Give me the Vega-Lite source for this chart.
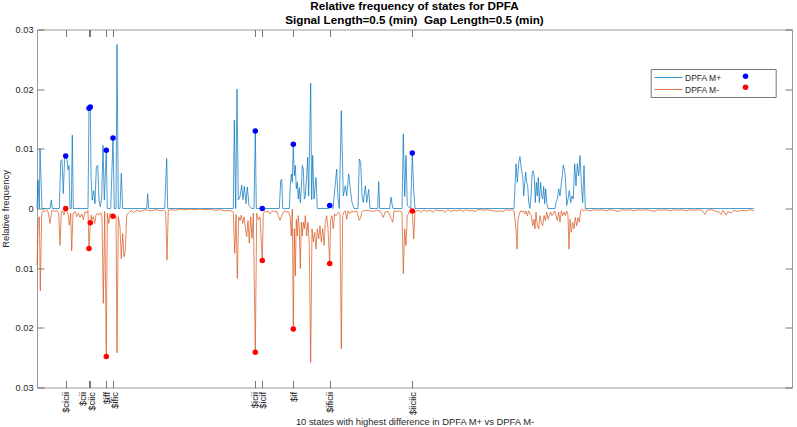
{
  "$schema": "https://vega.github.io/schema/vega-lite/v6.json",
  "width": 755,
  "height": 358,
  "autosize": {"type": "none"},
  "padding": {"left": 37, "top": 29.5, "right": 5, "bottom": 39.5},
  "background": "white",
  "config": {
    "font": "Liberation Sans",
    "view": {"stroke": "#9a9a9a", "strokeWidth": 1},
    "axis": {"labelColor": "#262626", "titleColor": "#262626", "tickColor": "#555555", "tickWidth": 0.8, "grid": false, "domain": false}
  },
  "title": {
    "text": ["Relative frequency of states for DPFA", "Signal Length=0.5 (min)\u00a0 Gap Length=0.5 (min)"],
    "fontSize": 11.7,
    "fontWeight": "bold",
    "color": "#000000",
    "anchor": "middle",
    "lineHeight": 14,
    "offset": 6,
    "dy": 7.5
  },
  "datasets": {
    "plus": [
      {"x":0,"y":0},{"x":1,"y":0.0048},{"x":2.3,"y":0},{"x":3,"y":0.0100},{"x":5,"y":0},{"x":13,"y":0},{"x":14.3,"y":0.0014},{"x":15.3,"y":0},
      {"x":22.3,"y":0},{"x":23.7,"y":0.0079},{"x":25,"y":0.0082},{"x":26.3,"y":0.0025},{"x":27.7,"y":0.0087},{"x":28.7,"y":0.0088},{"x":30,"y":0.0081},{"x":31,"y":0.0065},{"x":32,"y":0.0072},{"x":33,"y":0},{"x":34.3,"y":0},{"x":35.3,"y":0.0123},{"x":36.3,"y":0},
      {"x":51,"y":0},{"x":52,"y":0.0168},{"x":53.3,"y":0.0170},{"x":54,"y":0.0053},{"x":55.3,"y":0.0014},{"x":56.7,"y":0.0030},{"x":58,"y":0.0008},{"x":59.3,"y":0.0070},{"x":60.7,"y":0.0072},{"x":62,"y":0.0014},{"x":63.3,"y":0.0003},{"x":64.7,"y":0.0020},{"x":66,"y":0.0106},{"x":67.3,"y":0.0014},{"x":69.3,"y":0.00975},{"x":70.3,"y":0},{"x":73.7,"y":0},{"x":76,"y":0.0118},{"x":77.3,"y":0},{"x":79,"y":0},{"x":80,"y":0.0275},{"x":81.3,"y":0},{"x":83,"y":0},{"x":84.3,"y":0.0059},{"x":85.7,"y":0},
      {"x":109.7,"y":0},{"x":110.7,"y":0.0025},{"x":111.7,"y":0},{"x":127.7,"y":0},{"x":128.7,"y":0.0042},{"x":129.7,"y":0.0084},{"x":130.7,"y":0},
      {"x":196.3,"y":0},{"x":197.3,"y":0.0148},{"x":198.7,"y":0},{"x":200,"y":0.0200},{"x":201.3,"y":0.0014},{"x":203,"y":0.0020},{"x":204.7,"y":0.0039},{"x":206,"y":0.0015},{"x":207.3,"y":0.0037},{"x":209,"y":0.0008},{"x":210.3,"y":0.0036},{"x":212,"y":0.0005},{"x":214.7,"y":0},{"x":217,"y":0},{"x":218.3,"y":0.0130},{"x":219.3,"y":0},
      {"x":242.3,"y":0},{"x":243.7,"y":0.0047},{"x":244.7,"y":0.0049},{"x":245.7,"y":0},{"x":252.3,"y":0},{"x":253.3,"y":0.0038},{"x":254.3,"y":0.0058},{"x":255.3,"y":0.0044},{"x":256.3,"y":0.01075},{"x":257.3,"y":0.0055},{"x":258.3,"y":0.0072},{"x":259.3,"y":0.0033},{"x":260.3,"y":0.0044},{"x":261.3,"y":0.0016},{"x":262.3,"y":0.0035},{"x":263.3,"y":0.0010},{"x":264.3,"y":0.0033},{"x":265.3,"y":0.0072},{"x":266.3,"y":0.0066},{"x":267.3,"y":0.0016},{"x":268.3,"y":0.0021},{"x":269.7,"y":0.0055},{"x":270.7,"y":0.0086},{"x":271.7,"y":0.0021},{"x":273.7,"y":0.0210},{"x":274.7,"y":0.0015},{"x":275.7,"y":0.0089},{"x":277,"y":0.0016},{"x":279,"y":0.0052},{"x":280.3,"y":0},
      {"x":291.7,"y":0},{"x":292.7,"y":0.0005},{"x":296,"y":0},{"x":299.7,"y":0.0066},{"x":301,"y":0.0016},{"x":302.3,"y":0},{"x":304.3,"y":0.0164},{"x":306.3,"y":0.0021},{"x":308.3,"y":0.0038},{"x":309.7,"y":0.0021},{"x":311.7,"y":0.0058},{"x":313,"y":0.0038},{"x":315,"y":0.0010},{"x":317,"y":0},{"x":321,"y":0},{"x":322.3,"y":0.0083},{"x":323.7,"y":0.0077},{"x":325,"y":0.0021},{"x":326.3,"y":0.0010},{"x":328.3,"y":0.0038},{"x":329.7,"y":0.0010},{"x":331.7,"y":0.0032},{"x":333,"y":0},
      {"x":340.7,"y":0},{"x":341.7,"y":0.0045},{"x":342.7,"y":0},{"x":352.7,"y":0},{"x":354,"y":0.0019},{"x":355,"y":0.0008},{"x":356,"y":0},{"x":365,"y":0},{"x":366.3,"y":0.0125},{"x":367.7,"y":0.0020},{"x":369,"y":0.0089},{"x":370.3,"y":0.0005},{"x":373.7,"y":0},{"x":375.3,"y":0.0093},{"x":376.7,"y":0.0030},{"x":378,"y":0},
      {"x":477,"y":0},{"x":479,"y":0.0075},{"x":480.3,"y":0.0044},{"x":481.7,"y":0.0077},{"x":483,"y":0.0087},{"x":484.3,"y":0.0066},{"x":485.7,"y":0.0055},{"x":486.7,"y":0.0021},{"x":487.7,"y":0.0041},{"x":488.7,"y":0.0061},{"x":489.7,"y":0.0044},{"x":490.7,"y":0.0038},{"x":491.7,"y":0.0010},{"x":493,"y":0},{"x":494,"y":0.0021},{"x":495.3,"y":0.0062},{"x":496.3,"y":0.0063},{"x":497.3,"y":0.0052},{"x":498.3,"y":0.0010},{"x":499.3,"y":0.0044},{"x":500.3,"y":0.0021},{"x":501.3,"y":0.0052},{"x":502.3,"y":0.0010},{"x":503.7,"y":0.0044},{"x":504.7,"y":0.0021},{"x":505.7,"y":0.0016},{"x":506.7,"y":0.0037},{"x":507.7,"y":0.0008},{"x":508.7,"y":0.0033},{"x":509.7,"y":0.0010},{"x":511,"y":0},
      {"x":518,"y":0},{"x":519,"y":0.0010},{"x":520.3,"y":0.0016},{"x":521.7,"y":0.0033},{"x":523,"y":0.0021},{"x":524.3,"y":0.0042},{"x":525.3,"y":0.0055},{"x":526.3,"y":0.0073},{"x":527.7,"y":0.0063},{"x":528.7,"y":0.0044},{"x":529.7,"y":0.0005},{"x":531,"y":0.0016},{"x":532.3,"y":0.0030},{"x":533.7,"y":0.0010},{"x":535,"y":0.0021},{"x":536.3,"y":0.0016},{"x":537.7,"y":0.0075},{"x":539,"y":0.0038},{"x":540.3,"y":0.0075},{"x":541.7,"y":0.0055},{"x":543,"y":0.0089},{"x":544.3,"y":0.0044},{"x":545.7,"y":0.0010},{"x":547,"y":0.0072},{"x":548.3,"y":0},{"x":717,"y":0}
    ],
    "minus": [
      {"x":0,"y":-0.0095},{"x":1.3,"y":-0.0020},{"x":2.4,"y":-0.0014},{"x":3.3,"y":-0.0138},{"x":4.7,"y":-0.0008},{"x":6.3,"y":-0.0004},{"x":8,"y":-0.0005},{"x":9.7,"y":-0.0002},{"x":11.3,"y":-0.0007},{"x":13,"y":-0.0025},{"x":14.7,"y":-0.0004},{"x":16.3,"y":-0.0003},{"x":18,"y":-0.0005},{"x":19.7,"y":-0.0003},{"x":21.7,"y":-0.0008},{"x":23,"y":-0.0062},{"x":24.3,"y":-0.0005},{"x":25.7,"y":-0.0004},{"x":27,"y":-0.0011},{"x":28.7,"y":0},{"x":30,"y":-0.0005},{"x":31.3,"y":-0.0011},{"x":32.3,"y":-0.0028},{"x":33.7,"y":-0.0008},{"x":34.7,"y":-0.0071},{"x":36,"y":-0.0008},{"x":38,"y":-0.0005},{"x":39.7,"y":-0.0014},{"x":41.3,"y":-0.0008},{"x":43,"y":-0.0015},{"x":44.7,"y":-0.0009},{"x":46.3,"y":-0.0019},{"x":48,"y":-0.0005},{"x":49.7,"y":-0.0008},{"x":51,"y":-0.0003},{"x":52,"y":-0.0067},{"x":53.3,"y":-0.0024},{"x":54.3,"y":-0.0011},{"x":55,"y":-0.0019},{"x":56.3,"y":-0.0014},{"x":57.7,"y":-0.0025},{"x":59,"y":-0.0011},{"x":60.3,"y":-0.0008},{"x":62,"y":-0.0011},{"x":63.7,"y":-0.0007},{"x":65,"y":-0.0016},{"x":66.3,"y":-0.0159},{"x":67.7,"y":-0.0005},{"x":69.3,"y":-0.0248},{"x":70.3,"y":-0.0008},{"x":71.7,"y":-0.0025},{"x":73,"y":-0.0008},{"x":75,"y":-0.0011},{"x":76,"y":-0.0013},{"x":77.7,"y":-0.0014},{"x":79,"y":-0.0013},{"x":80,"y":-0.0242},{"x":81.3,"y":-0.0014},{"x":83,"y":-0.0031},{"x":84.3,"y":-0.0084},{"x":85.7,"y":-0.0042},{"x":87,"y":-0.0081},{"x":88.3,"y":-0.0070},{"x":89.7,"y":-0.0011},{"x":91.3,"y":-0.0008},{"x":93,"y":-0.0005},{"x":94.7,"y":-0.0003},{"x":96.3,"y":-0.0007},{"x":99.7,"y":-0.0003},{"x":103,"y":-0.0005},{"x":106.3,"y":-0.0003},{"x":109.7,"y":-0.0002},{"x":113,"y":-0.0004},{"x":116.3,"y":-0.0003},{"x":119.7,"y":-0.0002},{"x":123,"y":-0.0004},{"x":126.3,"y":-0.0003},{"x":128.7,"y":-0.0005},{"x":130,"y":-0.0086},{"x":131.3,"y":-0.0003},{"x":135,"y":-0.0002},{"x":139,"y":-0.0003},{"x":143,"y":-0.0001},{"x":148,"y":-0.0002},{"x":153,"y":-0.0001},{"x":158,"y":-0.0002},{"x":163,"y":-0.0001},{"x":168,"y":-0.0002},{"x":173,"y":-0.0001},{"x":178,"y":-0.0003},{"x":183,"y":-0.0002},{"x":188,"y":-0.0004},{"x":192,"y":-0.0003},{"x":195,"y":-0.0005},{"x":196.3,"y":-0.0006},{"x":197.7,"y":-0.0075},{"x":199,"y":-0.0010},{"x":200.3,"y":-0.0117},{"x":201.7,"y":-0.0014},{"x":203,"y":-0.0020},{"x":204.3,"y":-0.0011},{"x":205.7,"y":-0.0025},{"x":207,"y":-0.0014},{"x":208.3,"y":-0.0031},{"x":209.7,"y":-0.0047},{"x":211,"y":-0.0020},{"x":212.3,"y":-0.0058},{"x":213.7,"y":-0.0014},{"x":215,"y":-0.0050},{"x":216.3,"y":-0.0008},{"x":218.3,"y":-0.0241},{"x":219.7,"y":-0.0008},{"x":221.3,"y":-0.0019},{"x":223,"y":-0.0014},{"x":225.3,"y":-0.0087},{"x":226.3,"y":-0.0008},{"x":228,"y":-0.0004},{"x":229.7,"y":-0.0006},{"x":231.3,"y":-0.0004},{"x":233,"y":-0.0009},{"x":234.7,"y":-0.0005},{"x":236.3,"y":-0.0004},{"x":238,"y":-0.0006},{"x":239.7,"y":-0.0004},{"x":241.3,"y":-0.0012},{"x":243,"y":-0.0020},{"x":244.7,"y":-0.0012},{"x":246.3,"y":-0.0006},{"x":248,"y":-0.0004},{"x":249.7,"y":-0.0006},{"x":251.3,"y":-0.0005},{"x":253,"y":-0.0012},{"x":254.3,"y":-0.0046},{"x":255.3,"y":-0.0001},{"x":256.3,"y":-0.0202},{"x":257.3,"y":-0.0034},{"x":258.3,"y":-0.0113},{"x":259.3,"y":-0.0018},{"x":260.3,"y":-0.0046},{"x":261.3,"y":-0.0012},{"x":262.3,"y":-0.0034},{"x":263.3,"y":-0.0101},{"x":264.3,"y":-0.0023},{"x":265.3,"y":-0.0046},{"x":266.3,"y":-0.0023},{"x":267.3,"y":-0.0034},{"x":268.3,"y":-0.0012},{"x":269.7,"y":-0.0046},{"x":271,"y":-0.0023},{"x":272.3,"y":-0.0062},{"x":273.7,"y":-0.0258},{"x":275,"y":-0.0034},{"x":276.3,"y":-0.0056},{"x":277.7,"y":-0.0040},{"x":279,"y":-0.0068},{"x":280.3,"y":-0.0034},{"x":281.7,"y":-0.0051},{"x":283,"y":-0.0029},{"x":284.3,"y":-0.0056},{"x":285.7,"y":-0.0034},{"x":287,"y":-0.0062},{"x":288.3,"y":-0.0023},{"x":289.7,"y":-0.0012},{"x":291,"y":-0.0034},{"x":292.7,"y":-0.0092},{"x":293.7,"y":-0.0018},{"x":295,"y":-0.0012},{"x":296.3,"y":-0.0034},{"x":297.7,"y":-0.0009},{"x":299,"y":-0.0012},{"x":300.3,"y":-0.0009},{"x":301.7,"y":-0.0006},{"x":303,"y":-0.0009},{"x":304.3,"y":-0.0235},{"x":305.7,"y":-0.0012},{"x":307,"y":-0.0006},{"x":308.3,"y":-0.0004},{"x":309.7,"y":-0.0018},{"x":311,"y":-0.0004},{"x":313,"y":-0.0009},{"x":314.7,"y":-0.0004},{"x":316.3,"y":-0.0006},{"x":319.7,"y":-0.0004},{"x":322.3,"y":-0.0020},{"x":323.7,"y":-0.0015},{"x":325,"y":-0.0005},{"x":326.3,"y":-0.0004},{"x":329.7,"y":-0.0003},{"x":333,"y":-0.0004},{"x":336.3,"y":-0.0005},{"x":339.7,"y":-0.0003},{"x":343,"y":-0.0004},{"x":346.3,"y":-0.0015},{"x":348,"y":-0.0006},{"x":351,"y":-0.0005},{"x":353,"y":-0.0012},{"x":354.3,"y":-0.0018},{"x":355.7,"y":-0.0023},{"x":357,"y":-0.0004},{"x":359.7,"y":-0.0005},{"x":363,"y":-0.0004},{"x":365,"y":-0.0006},{"x":366.3,"y":-0.0109},{"x":367.7,"y":-0.0034},{"x":369,"y":-0.0062},{"x":370.3,"y":-0.0012},{"x":372.3,"y":-0.0005},{"x":374,"y":-0.0006},{"x":375.3,"y":-0.0004},{"x":376.7,"y":-0.0051},{"x":378,"y":-0.0005},
      {"x":381,"y":-0.0003},{"x":384,"y":-0.0006},{"x":387,"y":-0.0002},{"x":390,"y":-0.0005},{"x":393,"y":-0.0003},{"x":396,"y":-0.0006},{"x":399,"y":-0.0002},{"x":402,"y":-0.0004},{"x":405,"y":-0.0003},{"x":408,"y":-0.0006},{"x":411,"y":-0.0002},{"x":414,"y":-0.0005},{"x":417,"y":-0.0003},{"x":420,"y":-0.0004},{"x":423,"y":-0.0002},{"x":426,"y":-0.0005},{"x":429,"y":-0.0002},{"x":432,"y":-0.0004},{"x":435,"y":-0.0003},{"x":438,"y":-0.0005},{"x":441,"y":-0.0002},{"x":444,"y":-0.0002},{"x":447,"y":-0.0003},{"x":450,"y":-0.0002},{"x":453,"y":-0.0003},{"x":457,"y":-0.0004},{"x":460,"y":-0.0005},{"x":463,"y":-0.0004},{"x":466,"y":-0.0005},{"x":469,"y":-0.0002},{"x":472,"y":-0.0003},{"x":475,"y":-0.0002},{"x":477,"y":-0.0004},
      {"x":479,"y":-0.0034},{"x":480,"y":-0.0068},{"x":481,"y":-0.0018},{"x":482.3,"y":-0.0009},{"x":483.7,"y":-0.0004},{"x":485,"y":-0.0006},{"x":486.3,"y":-0.0004},{"x":487.7,"y":-0.0009},{"x":489,"y":-0.0004},{"x":490.3,"y":-0.0012},{"x":491.7,"y":-0.0004},{"x":493,"y":-0.0009},{"x":494.3,"y":-0.0012},{"x":495.7,"y":-0.0029},{"x":497,"y":-0.0018},{"x":498,"y":-0.0034},{"x":499,"y":-0.0006},{"x":500.3,"y":-0.0029},{"x":501.7,"y":-0.0034},{"x":503,"y":-0.0012},{"x":504.3,"y":-0.0023},{"x":505.7,"y":-0.0029},{"x":507,"y":-0.0012},{"x":508.3,"y":-0.0020},{"x":509.7,"y":-0.0006},{"x":511,"y":-0.0018},{"x":512.3,"y":-0.0012},{"x":513.7,"y":-0.0006},{"x":515,"y":-0.0012},{"x":516.3,"y":-0.0009},{"x":517.7,"y":-0.0004},{"x":519,"y":-0.0012},{"x":520.3,"y":-0.0020},{"x":521.7,"y":-0.0006},{"x":523,"y":-0.0023},{"x":524.3,"y":-0.0004},{"x":525.7,"y":-0.0012},{"x":527,"y":-0.0006},{"x":528.3,"y":-0.0012},{"x":529.7,"y":-0.0004},{"x":531,"y":-0.0012},{"x":532,"y":-0.0068},{"x":533,"y":-0.0018},{"x":534.3,"y":-0.0040},{"x":535.7,"y":-0.0023},{"x":537,"y":-0.0034},{"x":538.3,"y":-0.0015},{"x":539.7,"y":-0.0029},{"x":541,"y":-0.0015},{"x":542.3,"y":-0.0023},{"x":543.7,"y":-0.0004},{"x":545,"y":-0.0001},{"x":546.3,"y":-0.0004},
      {"x":549,"y":-0.0002},{"x":553,"y":-0.0004},{"x":557,"y":-0.0002},{"x":561,"y":-0.0003},{"x":565,"y":-0.0002},{"x":569,"y":-0.0004},{"x":573,"y":-0.0002},{"x":577,"y":-0.0003},{"x":581,"y":-0.0005},{"x":585,"y":-0.0002},{"x":589,"y":-0.0003},{"x":593,"y":-0.0002},{"x":597,"y":-0.0004},{"x":601,"y":-0.0002},{"x":605,"y":-0.0003},{"x":609,"y":-0.0002},{"x":613,"y":-0.0003},{"x":617,"y":-0.0005},{"x":621,"y":-0.0002},{"x":625,"y":-0.0003},{"x":629,"y":-0.0002},{"x":633,"y":-0.0004},{"x":637,"y":-0.0002},{"x":641,"y":-0.0003},{"x":645,"y":-0.0002},{"x":649,"y":-0.0004},{"x":653,"y":-0.0002},{"x":657,"y":-0.0003},{"x":661,"y":-0.0002},{"x":665,"y":-0.0003},{"x":668,"y":-0.0010},{"x":670,"y":-0.0003},{"x":674,"y":-0.0002},{"x":678,"y":-0.0004},{"x":682,"y":-0.0006},{"x":684,"y":-0.0010},{"x":686,"y":-0.0003},{"x":689,"y":-0.0011},{"x":691,"y":-0.0005},{"x":694,"y":-0.0008},{"x":697,"y":-0.0003},{"x":701,"y":-0.0005},{"x":705,"y":-0.0003},{"x":709,"y":-0.0004},{"x":713,"y":-0.0002},{"x":717,"y":-0.0004}
    ],
    "dots": [
      {"x":28.7,"y":0.0088,"group":"pos"},{"x":52,"y":0.0168,"group":"pos"},{"x":53.3,"y":0.0170,"group":"pos"},{"x":69.3,"y":0.00975,"group":"pos"},{"x":76,"y":0.0118,"group":"pos"},{"x":218.3,"y":0.0130,"group":"pos"},{"x":225.3,"y":0,"group":"pos"},{"x":256.3,"y":0.01075,"group":"pos"},{"x":292.7,"y":0.0005,"group":"pos"},{"x":375.3,"y":0.0093,"group":"pos"},
      {"x":28.7,"y":0,"group":"neg"},{"x":52,"y":-0.0067,"group":"neg"},{"x":53.3,"y":-0.0024,"group":"neg"},{"x":69.3,"y":-0.0248,"group":"neg"},{"x":76,"y":-0.0013,"group":"neg"},{"x":218.3,"y":-0.0241,"group":"neg"},{"x":225.3,"y":-0.0087,"group":"neg"},{"x":256.3,"y":-0.0202,"group":"neg"},{"x":292.7,"y":-0.0092,"group":"neg"},{"x":375.3,"y":-0.0004,"group":"neg"}
    ]
  },
  "resolve": {"axis": {"x": "independent", "y": "independent"}},
  "layer": [
    {
      "data": {"name": "plus"},
      "mark": {"type": "line", "strokeWidth": 0.7, "interpolate": "linear"},
      "encoding": {
        "x": {"field": "x", "type": "quantitative", "scale": {"domain": [0, 755], "nice": false, "zero": false},
          "axis": {"orient": "bottom", "values": [28.7,52,53.3,69.3,76,218.3,225.3,256.3,292.7,375.3],
            "labelExpr": "['$cicii','$cii','$ciic','$iff','$ific','$icii','$icif','$if','$ificii','$iiciic'][indexof([28.7,52,53.3,69.3,76,218.3,225.3,256.3,292.7,375.3], datum.value)]",
            "labelAngle": -90, "labelAlign": "right", "labelBaseline": "middle", "labelOverlap": false, "labelFontSize": 9.4,
            "labelOffset": {"condition": [{"test": "datum.value == 52", "value": -7}, {"test": "datum.value == 53.3", "value": 1.3}, {"test": "datum.value == 76", "value": 1.3}, {"test": "datum.value == 218.3", "value": -1.3}], "value": 0},
            "tickSize": -7, "labelPadding": 11,
            "title": "10 states with highest difference in DPFA M+ vs DPFA M-", "titleFontSize": 9.4, "titleFontWeight": "normal", "titlePadding": 3}},
        "y": {"field": "y", "type": "quantitative", "scale": {"domain": [-0.03, 0.03], "nice": false, "zero": false},
          "axis": {"orient": "left", "values": [-0.03,-0.02,-0.01,0,0.01,0.02,0.03],
            "labelExpr": "datum.value == 0 ? '0' : format(abs(datum.value), '.2f')",
            "labelFontSize": 9.2, "tickSize": -7, "labelPadding": 11,
            "title": "Relative frequency", "titleFontSize": 9.4, "titleFontWeight": "normal", "titlePadding": 5}},
        "stroke": {"datum": "DPFA M+", "type": "nominal",
          "scale": {"domain": ["DPFA M+", "DPFA M-"], "range": ["#0072BD", "#D95319"]},
          "legend": {"orient": "none", "legendX": 613.7, "legendY": 39.5,
            "title": "MMMMMM", "titleOrient": "right", "titleColor": "rgba(255,255,255,0)", "titleFontSize": 9, "titlePadding": 6, "titleLimit": 200,
            "symbolType": "M-2.8,0H2.8", "symbolSize": 100, "symbolStrokeWidth": 0.8, "symbolOffset": 9.3,
            "labelFontSize": 8.5, "labelColor": "#262626", "labelOffset": 11, "padding": 3, "rowPadding": 2,
            "strokeColor": "#777777", "fillColor": "white"}}
      }
    },
    {
      "data": {"name": "minus"},
      "mark": {"type": "line", "strokeWidth": 0.7, "interpolate": "linear"},
      "encoding": {
        "x": {"field": "x", "type": "quantitative",
          "axis": {"orient": "top", "values": [28.7,52,53.3,69.3,76,218.3,225.3,256.3,292.7,375.3], "labels": false, "tickSize": -7, "title": null}},
        "y": {"field": "y", "type": "quantitative",
          "axis": {"orient": "right", "values": [-0.03,-0.02,-0.01,0,0.01,0.02,0.03], "labels": false, "tickSize": -7, "title": null}},
        "stroke": {"datum": "DPFA M-", "type": "nominal"}
      }
    },
    {
      "data": {"name": "dots"},
      "mark": {"type": "point", "filled": true, "opacity": 1, "size": 30, "shape": "circle"},
      "encoding": {
        "x": {"field": "x", "type": "quantitative", "axis": null},
        "y": {"field": "y", "type": "quantitative", "axis": null},
        "fill": {"field": "group", "type": "nominal",
          "scale": {"domain": ["pos", "neg"], "range": ["#0000FF", "#FF0000"]},
          "legend": {"orient": "none", "legendX": 701.3, "legendY": 39.5, "title": null, "labelExpr": "'\u00a0'", "labelFontSize": 8.5,
            "symbolType": "circle", "symbolSize": 30, "symbolStrokeWidth": 0, "padding": 3, "rowPadding": 2, "labelOffset": 0}}
      }
    }
  ]
}
